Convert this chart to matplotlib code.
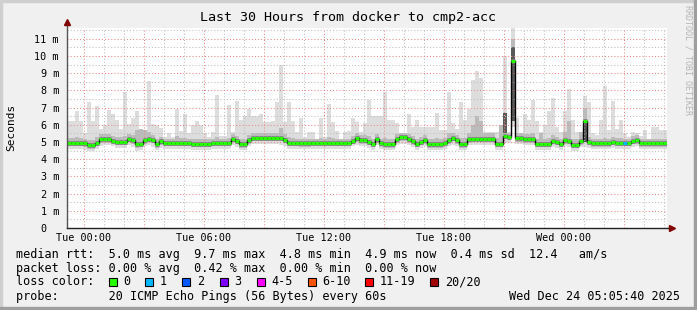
import numpy as np
import matplotlib
matplotlib.use("Agg")
from matplotlib import pyplot as plt
from matplotlib.patches import Rectangle

# smokeping data, 12 min steps, hours relative to Tue 00:00
T_START = -0.85
STEP_H = 0.2

median = [
    4.95, 4.95, 4.95, 4.95, 4.93, 4.80, 4.80, 4.95, 5.15, 5.15,
    5.15, 5.08, 5.00, 5.00, 5.00, 5.18, 5.10, 4.87, 4.90, 5.10,
    5.20, 5.12, 4.88, 5.03, 4.95, 4.95, 4.95, 4.95, 4.95, 4.95,
    4.95, 4.90, 4.90, 4.90, 4.90, 4.90, 4.95, 4.95, 4.95, 4.95,
    4.95, 5.20, 5.07, 4.87, 4.87, 5.10, 5.25, 5.25, 5.25, 5.25,
    5.25, 5.25, 5.25, 5.25, 5.12, 4.95, 4.95, 4.95, 4.92, 4.92,
    4.92, 4.95, 4.95, 4.95, 4.95, 4.95, 4.95, 4.95, 4.95, 4.95,
    4.95, 5.08, 5.22, 5.10, 5.10, 5.00, 4.90, 5.15, 4.92, 4.88,
    4.88, 4.88, 5.15, 5.27, 5.27, 5.15, 5.05, 4.90, 5.00, 5.10,
    4.88, 4.88, 4.88, 4.88, 4.95, 5.10, 5.23, 5.10, 4.88, 4.88,
    5.15, 5.20, 5.20, 5.20, 5.20, 5.20, 5.20, 4.90, 4.90, 5.35,
    5.30, 9.70, 5.22, 5.22, 5.16, 5.16, 5.16, 4.90, 4.90, 4.90,
    4.90, 5.08, 5.00, 4.90, 5.10, 5.07, 4.85, 4.85, 5.05, 6.25,
    5.00, 4.92, 4.92, 4.92, 4.92, 4.92, 5.00, 4.95, 4.95, 4.95,
    4.95, 5.07, 5.10, 4.93, 4.93, 4.93, 4.93, 4.93, 4.93, 4.93,
]

ping_max = [
    6.2, 6.2, 6.8, 6.2, 5.5, 7.3, 6.2, 7.1, 5.75, 6.0,
    6.85, 6.6, 6.3, 5.75, 7.9, 6.05, 6.4, 6.8, 5.65, 5.6,
    8.55, 6.05, 6.0, 5.8, 5.3, 5.5, 5.3, 6.9, 5.65, 6.6,
    5.5, 6.0, 6.2, 6.0, 5.5, 5.3, 5.6, 7.75, 5.35, 5.35,
    7.15, 5.6, 7.4, 6.3, 6.5, 6.9, 6.5, 6.5, 6.63, 6.15,
    6.15, 6.2, 7.3, 9.5, 6.15, 7.3, 6.2, 5.6, 6.4, 5.3,
    5.6, 5.6, 5.2, 6.4, 5.3, 7.2, 6.15, 5.65, 5.1, 5.6,
    5.65, 6.4, 6.15, 5.6, 6.1, 7.45, 6.5, 6.5, 6.5, 7.9,
    6.3, 6.3, 6.1, 5.45, 5.45, 6.6, 5.85, 6.3, 5.85, 5.9,
    5.9, 5.9, 6.7, 5.7, 5.7, 7.9, 6.1, 5.75, 7.3, 6.3,
    6.9, 8.6, 9.1, 8.7, 5.6, 5.6, 5.6, 5.6, 5.6, 10.0,
    5.6, 11.8, 6.4, 5.3, 6.6, 6.3, 7.45, 6.2, 5.6, 6.0,
    6.8, 7.55, 5.9, 5.6, 6.8, 8.1, 6.3, 5.6, 5.3, 7.7,
    7.3, 5.5, 5.4, 6.3, 8.25, 5.7, 7.4, 5.75, 6.3, 5.5,
    5.3, 5.6, 5.5, 5.35, 5.7, 5.1, 5.9, 5.9, 5.7, 5.7,
]

ping_min = [
    4.60, 4.60, 4.60, 4.60, 4.55, 4.50, 4.50, 4.60, 4.75, 4.80,
    4.80, 4.75, 4.65, 4.65, 4.65, 4.80, 4.70, 4.50, 4.55, 4.75,
    4.85, 4.70, 4.55, 4.65, 4.60, 4.60, 4.60, 4.60, 4.60, 4.60,
    4.60, 4.55, 4.55, 4.55, 4.55, 4.55, 4.60, 4.60, 4.60, 4.60,
    4.60, 4.85, 4.70, 4.55, 4.55, 4.75, 4.90, 4.90, 4.90, 4.90,
    4.90, 4.90, 4.90, 4.85, 4.75, 4.60, 4.60, 4.60, 4.58, 4.58,
    4.58, 4.60, 4.60, 4.60, 4.60, 4.60, 4.60, 4.60, 4.60, 4.60,
    4.60, 4.75, 4.85, 4.75, 4.75, 4.65, 4.55, 4.80, 4.58, 4.55,
    4.55, 4.55, 4.80, 4.90, 4.90, 4.80, 4.70, 4.55, 4.65, 4.75,
    4.55, 4.55, 4.55, 4.55, 4.60, 4.75, 4.85, 4.75, 4.55, 4.55,
    4.80, 4.85, 4.85, 4.85, 4.85, 4.85, 4.85, 4.55, 4.55, 4.95,
    4.95, 5.90, 4.90, 4.90, 4.80, 4.80, 4.80, 4.55, 4.55, 4.55,
    4.55, 4.70, 4.65, 4.55, 4.75, 4.70, 4.50, 4.50, 4.70, 4.70,
    4.65, 4.58, 4.58, 4.58, 4.58, 4.58, 4.65, 4.60, 4.60, 4.60,
    4.60, 4.70, 4.75, 4.58, 4.58, 4.58, 4.58, 4.58, 4.58, 4.58,
]

q_lo = [
    4.75, 4.75, 4.75, 4.75, 4.73, 4.60, 4.60, 4.75, 4.95, 4.95,
    4.95, 4.88, 4.80, 4.80, 4.80, 4.98, 4.90, 4.67, 4.70, 4.90,
    5.00, 4.92, 4.68, 4.83, 4.75, 4.75, 4.75, 4.75, 4.75, 4.75,
    4.75, 4.70, 4.70, 4.70, 4.70, 4.70, 4.75, 4.75, 4.75, 4.75,
    4.75, 5.00, 4.87, 4.67, 4.67, 4.90, 5.05, 5.05, 5.05, 5.05,
    5.05, 5.05, 5.05, 5.05, 4.92, 4.75, 4.75, 4.75, 4.72, 4.72,
    4.72, 4.75, 4.75, 4.75, 4.75, 4.75, 4.75, 4.75, 4.75, 4.75,
    4.75, 4.88, 5.02, 4.90, 4.90, 4.80, 4.70, 4.95, 4.72, 4.68,
    4.68, 4.68, 4.95, 5.07, 5.07, 4.95, 4.85, 4.70, 4.80, 4.90,
    4.68, 4.68, 4.68, 4.68, 4.75, 4.90, 5.03, 4.90, 4.68, 4.68,
    4.95, 5.00, 5.00, 5.00, 5.00, 5.00, 5.00, 4.70, 4.70, 5.15,
    5.10, 6.20, 5.02, 5.02, 4.96, 4.96, 4.96, 4.70, 4.70, 4.70,
    4.70, 4.88, 4.80, 4.70, 4.90, 4.87, 4.65, 4.65, 4.85, 5.00,
    4.80, 4.72, 4.72, 4.72, 4.72, 4.72, 4.80, 4.75, 4.75, 4.75,
    4.75, 4.87, 4.90, 4.73, 4.73, 4.73, 4.73, 4.73, 4.73, 4.73,
]

q_hi = [
    5.25, 5.25, 5.30, 5.25, 5.20, 5.10, 5.10, 5.30, 5.45, 5.45,
    5.45, 5.35, 5.30, 5.30, 5.35, 5.45, 5.40, 5.70, 5.75, 5.70,
    5.60, 5.40, 5.20, 5.30, 5.20, 5.20, 5.20, 5.35, 5.25, 5.25,
    5.20, 5.15, 5.20, 5.20, 5.15, 5.15, 5.20, 5.30, 5.20, 5.20,
    5.25, 5.45, 5.35, 5.15, 5.15, 5.40, 5.50, 5.50, 5.50, 5.50,
    5.50, 5.50, 5.55, 5.80, 5.45, 5.30, 5.25, 5.20, 5.20, 5.15,
    5.20, 5.20, 5.15, 5.25, 5.20, 5.30, 5.25, 5.20, 5.15, 5.20,
    5.20, 5.35, 5.50, 5.40, 5.40, 5.35, 5.20, 5.45, 5.20, 5.25,
    5.20, 5.20, 5.45, 5.55, 5.55, 5.45, 5.35, 5.20, 5.30, 5.40,
    5.20, 5.20, 5.25, 5.20, 5.25, 5.50, 5.55, 5.40, 5.25, 5.25,
    5.50, 6.00, 6.50, 6.20, 5.50, 5.50, 5.50, 5.25, 6.00, 6.70,
    5.55, 11.00, 5.50, 5.50, 5.45, 5.45, 5.50, 5.20, 5.50, 5.20,
    5.25, 5.40, 5.30, 5.20, 5.60, 6.20, 5.15, 5.15, 5.60, 7.00,
    5.30, 5.20, 5.20, 5.20, 5.25, 5.20, 5.30, 5.25, 5.25, 5.20,
    5.20, 5.35, 5.40, 5.20, 5.20, 5.20, 5.20, 5.20, 5.20, 5.20,
]

# dark cores of the smoke at the big spikes
core_steps = [109, 111, 129]
core_lo = [5.5, 6.2, 5.0]
core_hi = [6.7, 10.5, 6.25]

# packets lost per step (only one step lost 1 ping)
loss = [0] * 139 + [1] + [0] * 10

loss_labels = ["0", "1", "2", "3", "4-5", "6-10", "11-19", "20/20"]
loss_colors = ["#26ff00", "#00b8ff", "#0059ff", "#7e00ff", "#ff00ff",
               "#ff5500", "#ff0000", "#a10000"]

x_tick_hours = [0, 6, 12, 18, 24]
x_tick_labels = ["Tue 00:00", "Tue 06:00", "Tue 12:00", "Tue 18:00", "Wed 00:00"]
y_ticks = list(range(12))
y_tick_labels = ["0  "] + [f"{v} m" for v in range(1, 12)]

title = "Last 30 Hours from docker to cmp2-acc"
legend_lines = [
    "median rtt:  5.0 ms avg  9.7 ms max  4.8 ms min  4.9 ms now  0.4 ms sd  12.4   am/s",
    "packet loss: 0.00 % avg  0.42 % max  0.00 % min  0.00 % now",
    "loss color:",
    "probe:       20 ICMP Echo Pings (56 Bytes) every 60s",
]
stamp = "Wed Dec 24 05:05:40 2025"

W, H = 697, 310
MONO = "DejaVu Sans Mono"
plt.rcParams["font.family"] = MONO


def fx(px):
    return px / W


def fy(py):
    return 1 - py / H


fig = plt.figure(figsize=(W / 100, H / 100), dpi=100)
fig.patch.set_facecolor("#F0F0F0")

# 3d frame
fig.patches.append(Rectangle((0, fy(2)), 1, 2 / H, transform=fig.transFigure, color="#CFCFCF", zorder=0))
fig.patches.append(Rectangle((0, 0), 2 / W, 1, transform=fig.transFigure, color="#CFCFCF", zorder=0))
fig.patches.append(Rectangle((0, 0), 1, 3 / H, transform=fig.transFigure, color="#9E9E9E", zorder=0))
fig.patches.append(Rectangle((fx(W - 3), 0), 3 / W, 1, transform=fig.transFigure, color="#9E9E9E", zorder=0))

ax = fig.add_axes([fx(67), 82 / H, 600 / W, 200 / H])
ax.set_facecolor("white")
ax.set_xlim(T_START, T_START + 150 * STEP_H)
ax.set_ylim(0, 200 / 17.2)
for s in ax.spines.values():
    s.set_visible(False)

edges = T_START + STEP_H * np.arange(len(median) + 1)

# smoke
ax.stairs(ping_max, edges, baseline=ping_min, fill=True, color="#DDDDDD", zorder=1)
ax.stairs(q_hi, edges, baseline=q_lo, fill=True, color="#BBBBBB", zorder=2)
core_x = [edges[i] for i in core_steps]
ax.bar(core_x, np.subtract(core_hi, core_lo), bottom=core_lo, width=STEP_H,
       align="edge", color="#5A5A5A", linewidth=0, zorder=2.5)

# grid (dotted, faint)
grid_kw = dict(linestyle=(0, (1, 2)), linewidth=0.75, zorder=3)
for h in range(30):
    col = "#EE8A8A" if h % 3 == 0 else "#BEBEBE"
    ax.axvline(h, color=col, **grid_kw)
for v in np.arange(0.5, 12, 0.5):
    col = "#EE8A8A" if v % 1 == 0 else "#BEBEBE"
    ax.axhline(v, color=col, **grid_kw)

# median line
ax.hlines(median, edges[:-1], edges[1:], colors="#808080", linewidth=3.4, zorder=4)
ax.stairs(median, edges, baseline=None, color="black", linewidth=1.0, zorder=5)
ax.hlines(median, edges[:-1], edges[1:], colors=[loss_colors[n] for n in loss],
          linewidth=2.2, zorder=6)

# axes with arrows
ax.plot([0, 0], [0, 1.025], transform=ax.transAxes, color="#555555", lw=1.0, clip_on=False, zorder=7)
ax.plot([0, 1.005], [0, 0], transform=ax.transAxes, color="#222222", lw=1.0, clip_on=False, zorder=7)
ax.plot(0, 1.03, marker="^", ms=4.5, color="#7F0000", transform=ax.transAxes, clip_on=False, zorder=8)
ax.plot(1.008, 0, marker=">", ms=4.5, color="#7F0000", transform=ax.transAxes, clip_on=False, zorder=8)

ax.set_xticks(x_tick_hours)
ax.set_xticklabels(x_tick_labels)
ax.set_yticks(y_ticks)
ax.set_yticklabels(y_tick_labels)
ax.tick_params(axis="both", length=0, labelsize=7.3)
ax.tick_params(axis="y", pad=5.8)
ax.tick_params(axis="x", pad=3.5)

# texts
fig.text(fx(348), fy(18), title, ha="center", va="center", fontsize=9.6)
fig.text(fx(11), fy(127), "Seconds", rotation=90, ha="center", va="center", fontsize=8)
fig.text(fx(688), fy(5), "RRDTOOL / TOBI OETIKER", rotation=270, ha="center", va="top",
         fontsize=6, color="#B4B4B4")

line_y = [254.3, 268.3, 281.7, 296.7]
for txt, yy in zip(legend_lines, line_y):
    fig.text(fx(16.4), fy(yy), txt, ha="left", va="center", fontsize=8.5)
fig.text(fx(680), fy(line_y[3]), stamp, ha="right", va="center", fontsize=8.5)

box_x = [109, 145.3, 182.2, 219.6, 256.9, 307.6, 365.3, 430.2]
for bx, lab, col in zip(box_x, loss_labels, loss_colors):
    fig.patches.append(Rectangle((fx(bx), fy(line_y[2] + 4)), 8 / W, 8 / H,
                                 transform=fig.transFigure, facecolor=col,
                                 edgecolor="black", linewidth=0.8))
    fig.text(fx(bx + 14.5), fy(line_y[2]), lab, ha="left", va="center", fontsize=8.5)

fig.savefig("out.png", dpi=100, facecolor=fig.get_facecolor())
